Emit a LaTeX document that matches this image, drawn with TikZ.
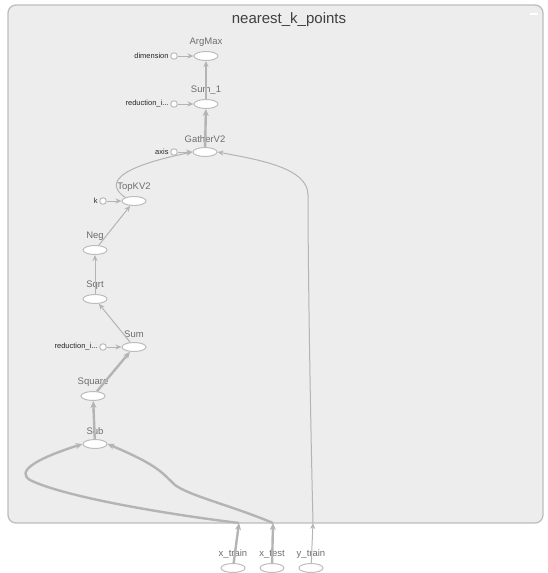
\documentclass[tikz,border=0pt]{standalone}
\usepackage{fontspec}
\setmainfont{Liberation Sans}
\usetikzlibrary{arrows.meta,shapes.geometric}
\definecolor{framefill}{HTML}{EDEDED}
\definecolor{framedraw}{HTML}{BDBDBD}
\definecolor{edgegray}{HTML}{B4B4B4}
\definecolor{opgray}{HTML}{6E6E6E}
\begin{document}
\begin{tikzpicture}[x=1pt, y=-1pt,
    op/.style={draw=framedraw, fill=white, ellipse, line width=1pt, minimum width=24pt, minimum height=9pt, inner sep=0pt},
    const/.style={draw=framedraw, fill=white, circle, line width=1pt, minimum size=6.5pt, inner sep=0pt},
    oplabel/.style={text=opgray, font=\fontsize{9.5}{9.5}\selectfont, inner sep=0pt, label distance=4pt},
    clabel/.style={text=black!85, font=\fontsize{7.5}{7.5}\selectfont, inner sep=0pt, label distance=1.5pt},
    edge/.style={draw=edgegray, line width=1pt, -{Stealth[length=6pt, width=5pt]}},
    fatedge/.style={edge, line width=2.4pt, -{Stealth[length=7pt, width=6pt]}}]
    \useasboundingbox (0,0) rectangle (547,573);

    % Name scope
    \draw[framedraw, fill=framefill, line width=1.3pt, rounded corners=8pt] (8,5) rectangle (543,523);
    \node[font=\fontsize{15}{15}\selectfont, text=black!75] (title) at (289,20) {nearest\_k\_points};
    \draw[white, line width=1.6pt] (530,14) -- (538,14);

    % Ops inside the scope
    \node[op, label={[oplabel]above:ArgMax}] (argmax) at (206,56) {};
    \node[op, label={[oplabel]above:Sum\_1}] (sumOne) at (206,104) {};
    \node[op, label={[oplabel]above:GatherV2}] (gather) at (205,152) {};
    \node[op, label={[oplabel]above:TopKV2}] (topk) at (134,201) {};
    \node[op, label={[oplabel]above:Neg}] (neg) at (95,250) {};
    \node[op, label={[oplabel]above:Sqrt}] (sqrtOp) at (95,299) {};
    \node[op, label={[oplabel]above:Sum}] (sumOp) at (134,347) {};
    \node[op, label={[oplabel]above:Square}] (square) at (93,396) {};
    \node[op, label={[oplabel]above:Sub}] (sub) at (95,444) {};

    % Constants
    \node[const, label={[clabel]left:dimension}] (dimC) at (174,56) {};
    \node[const, label={[clabel]left:reduction\_i...}] (redOne) at (174,104) {};
    \node[const, label={[clabel]left:axis}] (axisC) at (174,152) {};
    \node[const, label={[clabel]left:k}] (kC) at (103,201) {};
    \node[const, label={[clabel]left:reduction\_i...}] (redTwo) at (103,347) {};

    % Inputs outside the scope
    \node[op, label={[oplabel]above:x\_train}] (xtrain) at (233,568) {};
    \node[op, label={[oplabel]above:x\_test}] (xtest) at (272,568) {};
    \node[op, label={[oplabel]above:y\_train}] (ytrain) at (311,568) {};
    \coordinate (xtrIn) at (239,523);
    \coordinate (xteIn) at (273,523);
    \coordinate (ytrIn) at (313,523);

    % Edges
    \draw[edge] (dimC) -- (argmax);
    \draw[edge, line width=1.6pt] (sumOne) -- (argmax);
    \draw[edge] (redOne) -- (sumOne);
    \draw[fatedge] (gather) -- (sumOne);
    \draw[edge] (axisC) -- (gather);
    \draw[edge] (topk.north west) .. controls (106,184) and (114,168) .. (gather.west);
    \draw[edge] (ytrIn) .. controls (310,400) and (308,260) .. (308,195) .. controls (308,168) and (260,160) .. (gather.east);
    \draw[edge] (kC) -- (topk);
    \draw[edge] (neg) -- (topk);
    \draw[edge] (sqrtOp) -- (neg);
    \draw[edge] (sumOp) -- (sqrtOp);
    \draw[edge] (redTwo) -- (sumOp);
    \draw[fatedge] (square) -- (sumOp);
    \draw[fatedge] (sub) -- (square);
    \draw[fatedge] (xtrIn) .. controls (150,512) and (60,495) .. (30,480) .. controls (17,472) and (32,460) .. (sub.west);
    \draw[fatedge] (xteIn) .. controls (230,505) and (190,496) .. (175,485) .. controls (163,474) and (160,466) .. (sub.east);
    \draw[fatedge] (xtrain) -- (xtrIn);
    \draw[fatedge] (xtest) -- (xteIn);
    \draw[edge] (ytrain) -- (ytrIn);
\end{tikzpicture}
\end{document}
